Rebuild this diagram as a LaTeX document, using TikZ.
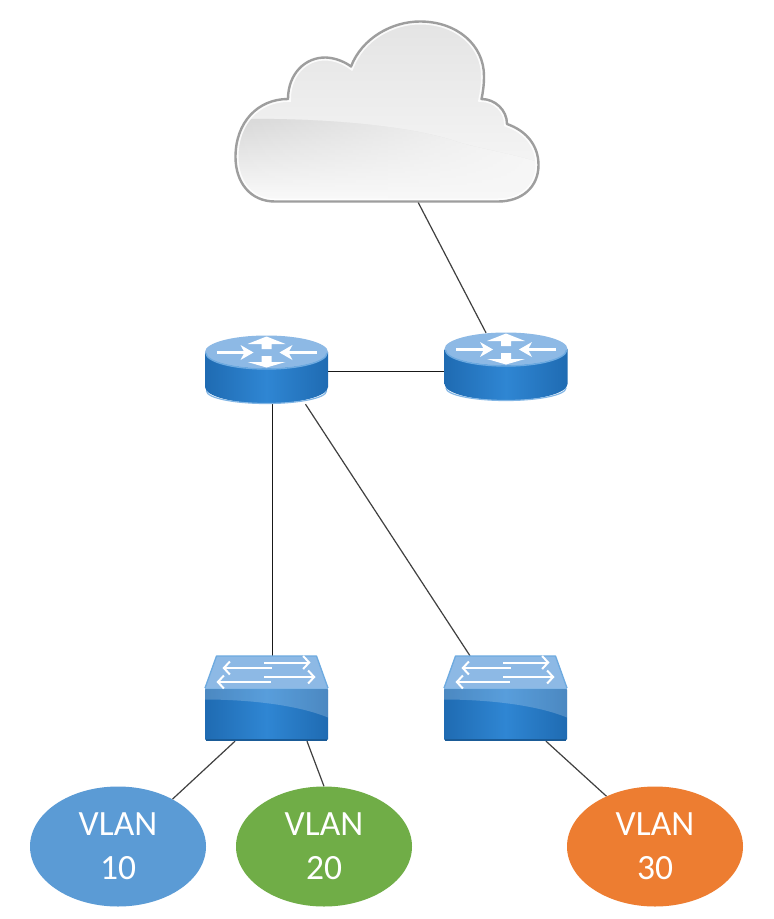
\documentclass[tikz,border=0pt]{standalone}
\usepackage{fontspec}
\setmainfont{Carlito}
\usetikzlibrary{shapes.geometric,arrows.meta,fadings}
\definecolor{vlanblue}{HTML}{5B9BD5}
\definecolor{vlangreen}{HTML}{70AD47}
\definecolor{vlanorange}{HTML}{ED7D31}
\definecolor{icondark}{HTML}{1F6BB2}
\definecolor{iconmid}{HTML}{2F86D3}
\definecolor{icontop}{HTML}{8DB9E5}
\tikzset{
  anchorbox/.style={rectangle,inner sep=0pt,minimum width=#1},
  vlan/.style={ellipse,fill=#1,draw=none,text=white,inner sep=0pt,minimum width=176pt,minimum height=120pt,
    align=center,font=\fontsize{35.5}{44}\selectfont},
  link/.style={draw=black!90,line width=1.6pt},
  thinlink/.style={draw=black!75,line width=1.2pt},
  whitearrow/.style={draw=white,line width=2pt,-{Straight Barb[length=6pt,width=13pt,line width=2pt]}},
  routerpic/.pic={
    % body
    \shade[left color=icondark,right color=icondark,middle color=iconmid]
      (-61.5,-18) -- (-61.5,17) arc[x radius=61.5,y radius=16.5,start angle=180,end angle=0] -- (61.5,-18) -- cycle;
    \draw[draw=white!40!iconmid,line width=1.2pt] (-60,21) arc[x radius=60,y radius=12.5,start angle=180,end angle=0];
    % top
    \fill[icontop] (0,-18) ellipse[x radius=61.5,y radius=16.5];
    \draw[draw=white!30!iconmid,line width=1.4pt] (-60.5,-17) arc[x radius=60.5,y radius=16,start angle=180,end angle=0];
    % arrows
    \draw[white,line width=2.6pt] (-50,-17.5) -- (-18,-17.5);
    \fill[white] (-26,-25) -- (-13,-17.5) -- (-26,-10) -- (-22,-17.5) -- cycle;
    \draw[white,line width=2.6pt] (50,-17.5) -- (18,-17.5);
    \fill[white] (26,-25) -- (13,-17.5) -- (26,-10) -- (22,-17.5) -- cycle;
    \fill[white] (-5,-21) -- (-5,-26) -- (-19,-26) -- (0,-33.5) -- (19,-26) -- (5,-26) -- (5,-21) -- cycle;
    \fill[white] (-5,-14) -- (-5,-8) -- (-19,-8) -- (0,-2.5) -- (19,-8) -- (5,-8) -- (5,-14) -- cycle;
  },
  switchpic/.pic={
    % top face
    \fill[icontop] (-50,-42.5) -- (50,-42.5) -- (61.5,-10.5) -- (-61.5,-10.5) -- cycle;
    \draw[draw=white!30!iconmid,line width=1.3pt,line join=round] (-61.5,-10.5) -- (-50,-42.5) -- (50,-42.5) -- (61.5,-10.5);
    % front
    \shade[left color=icondark,right color=icondark,middle color=iconmid,rounded corners=1.5pt]
      (-61.5,-10.5) -- (61.5,-10.5) -- (61.5,42) -- (-61.5,42) -- cycle;
    \fill[white,opacity=.2] (-61.5,-10.5) -- (61.5,-10.5) -- (61.5,19) .. controls (30,6) and (-20,1) .. (-61.5,1) -- cycle;
    \draw[draw=white!40!iconmid,line width=1.2pt] (-61.5,-10) -- (61.5,-10);
    \draw[draw=icondark!85!black,line width=1.2pt] (-60.5,41.5) -- (60.5,41.5);
    % arrows
    \draw[whitearrow] (-2.5,-36) -- (44,-36);
    \draw[whitearrow] (5,-30.5) -- (-44,-30.5);
    \draw[whitearrow] (-2.5,-21.5) -- (49,-21.5);
    \draw[whitearrow] (4,-16.5) -- (-50,-16.5);
  }
}
\tikzfading[name=fadetoright,left color=transparent!100,right color=transparent!0]
\newcommand{\cloudpath}{(275,201.5) .. controls (250,201.5) and (235.5,182) .. (235.5,157)
  .. controls (235.5,122) and (258,99) .. (288,99)
  .. controls (288,74) and (305,57) .. (326,57.5)
  .. controls (336,58) and (345,62) .. (351,66.5)
  .. controls (362,38) and (392,21.5) .. (420,21.5)
  .. controls (457,21.5) and (484,45) .. (484,76)
  .. controls (484,85) and (483,92) .. (481.5,99)
  .. controls (495,99) and (507,110) .. (507,124)
  .. controls (527,131) and (538.5,146) .. (538.5,165)
  .. controls (538.5,187) and (522,201.5) .. (498,201.5) -- cycle}
\begin{document}
\begin{tikzpicture}[x=1pt,y=-1pt]
\useasboundingbox (0,0) rectangle (774,919);
\fill[white] (0,0) rectangle (774,919);
% named anchor boxes
\node[anchorbox=302pt,minimum height=180pt] (cloud) at (387,112) {};
\node[anchorbox=123pt,minimum height=68pt] (r1) at (266.5,370) {};
\node[anchorbox=123pt,minimum height=68pt] (r2) at (506,367) {};
\node[anchorbox=123pt,minimum height=85pt] (s1) at (266.5,698.5) {};
\node[anchorbox=123pt,minimum height=85pt] (s2) at (505.5,698.5) {};
\node[vlan=vlanblue] (v10) at (118,846.5) {VLAN\\10};
\node[vlan=vlangreen] (v20) at (324,846.5) {VLAN\\20};
\node[vlan=vlanorange] (v30) at (655,846.5) {VLAN\\30};
% connectors
\draw[thinlink] (cloud.-71) -- ([xshift=-20pt]r2.north);
\draw[link] ([yshift=-1.5pt]r1.east) -- ([yshift=-1.5pt]r1.east -| r2.west);
\draw[link] ([xshift=6pt]r1.south) -- ([xshift=6pt]s1.north);
\draw[thinlink] ([xshift=39pt]r1.south) -- ([xshift=-35.5pt]s2.north);
\draw[thinlink] ([xshift=-31.5pt]s1.south) -- (v10.41.6);
\draw[thinlink] ([xshift=40.5pt]s1.south) -- (v20.north);
\draw[thinlink] ([xshift=40.5pt]s2.south) -- (v30.134);
% icons
\pic at (r1.center) {routerpic};
\pic at (r2.center) {routerpic};
\pic at (s1.center) {switchpic};
\pic at (s2.center) {switchpic};
% cloud
\begin{scope}
  \clip \cloudpath;
  \shade[top color=white!89!black,bottom color=white!96!black] (230,15) rectangle (545,170);
  \shade[top color=white!84!black,bottom color=white!99!black]
    (230,119.5) .. controls (290,117) and (400,122) .. (458,142) .. controls (485,150) and (510,153) .. (545,164) -- (545,205) -- (230,205) -- cycle;
  \fill[white!97!black,path fading=fadetoright]
    (230,119.5) .. controls (290,117) and (400,122) .. (458,142) .. controls (485,150) and (510,153) .. (545,164) -- (545,205) -- (230,205) -- cycle;
  \draw[white,line width=6pt,opacity=.85] \cloudpath;
\end{scope}
\draw[draw=black!38,line width=2.4pt,line join=round] \cloudpath;
\end{tikzpicture}
\end{document}
